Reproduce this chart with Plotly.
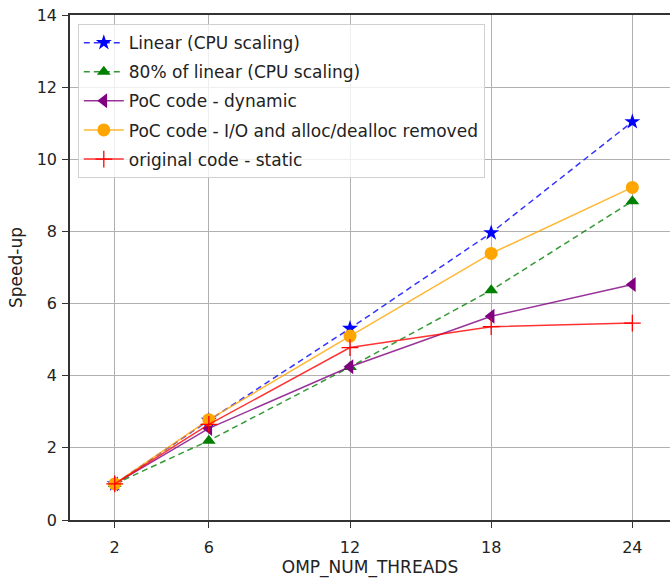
import plotly.graph_objects as go

threads = [2, 6, 12, 18, 24]
linear = [1.0, 2.76, 5.31, 7.96, 11.04]
linear80 = [1.0, 2.2, 4.24, 6.37, 8.84]
poc_dynamic = [1.0, 2.54, 4.25, 5.65, 6.53]
poc_io = [1.0, 2.78, 5.1, 7.39, 9.22]
orig_static = [1.0, 2.65, 4.78, 5.36, 5.46]

x_ticks = [2, 6, 12, 18, 24]
y_ticks = [0, 2, 4, 6, 8, 10, 12, 14]

series = [
    ("Linear (CPU scaling)", linear, "rgba(0,0,255,0.8)", "blue", "dash", "star", 12),
    ("80% of linear (CPU scaling)", linear80, "rgba(0,128,0,0.8)", "green", "dash", "triangle-up", 12),
    ("PoC code - dynamic", poc_dynamic, "rgba(128,0,128,0.8)", "purple", "solid", "triangle-left", 13),
    ("PoC code - I/O and alloc/dealloc removed", poc_io, "rgba(255,165,0,0.8)", "orange", "solid", "circle", 13),
    ("original code - static", orig_static, "rgba(255,0,0,0.8)", "red", "solid", "cross-thin", 12),
]

fig = go.Figure()
for i, (name, vals, lc, mc, dash, sym, size) in enumerate(series):
    marker = dict(symbol=sym, size=size, color=mc)
    if sym == "cross-thin":
        marker["line"] = dict(color=mc, width=1.3)
    fig.add_trace(go.Scatter(
        x=threads, y=vals, name=name, mode="lines+markers",
        line=dict(color=lc, width=1.5, dash="6px,4px" if dash == "dash" else "solid"),
        marker=marker, legendgroup=f"g{i}",
    ))

font = "DejaVu Sans, Verdana, sans-serif"
fig.update_layout(
    width=670, height=580,
    margin=dict(l=70, r=0, t=15, b=60),
    paper_bgcolor="white", plot_bgcolor="white",
    font=dict(family=font, size=16, color="#222"),
    showlegend=True,
    legend=dict(
        x=0.013, y=0.982, xanchor="left", yanchor="top",
        bgcolor="rgba(255,255,255,0.8)", bordercolor="#d0d0d0", borderwidth=1,
        font=dict(family=font, size=17, color="#222"),
        traceorder="grouped", tracegroupgap=4, itemwidth=40,
    ),
    xaxis=dict(
        range=[0.1, 25.6], tickvals=x_ticks, ticktext=[str(v) for v in x_ticks],
        showgrid=True, gridcolor="#b0b0b0", gridwidth=1,
        showline=True, linecolor="#333", linewidth=1.5, mirror=True,
        ticks="outside", ticklen=6, tickcolor="#333",
        tickfont=dict(size=16), ticklabelstandoff=6,
        title=dict(text="OMP_NUM_THREADS", font=dict(size=17), standoff=4),
        zeroline=False,
    ),
    yaxis=dict(
        range=[0, 14], tickvals=y_ticks,
        showgrid=True, gridcolor="#b0b0b0", gridwidth=1,
        showline=True, linecolor="#333", linewidth=1.5, mirror=False,
        ticks="outside", ticklen=6, tickcolor="#333",
        tickfont=dict(size=16), ticklabelstandoff=2,
        title=dict(text="Speed-up", font=dict(size=17), standoff=10),
        zeroline=False,
    ),
)

fig.write_html(
    "out.html",
    config={"displayModeBar": False},
    post_script="document.body.style.margin='0';document.body.style.overflow='hidden';",
)
